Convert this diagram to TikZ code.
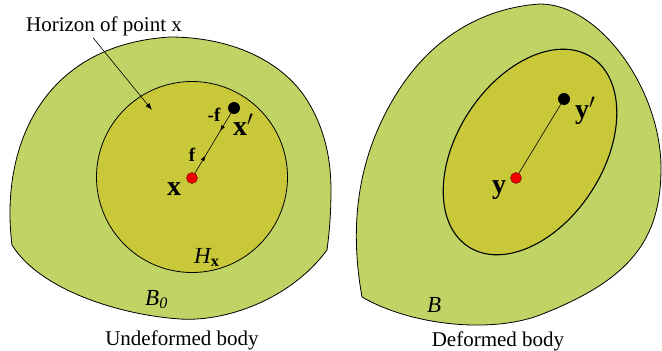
\documentclass[tikz,border=0pt]{standalone}
\usepackage{fontspec}
\setmainfont{Liberation Serif}
\usetikzlibrary{arrows.meta, positioning, decorations.markings}
\definecolor{outergreen}{RGB}{191,212,101}
\definecolor{innergreen}{RGB}{200,200,56}
\definecolor{dotred}{RGB}{240,0,0}

\begin{document}
\begin{tikzpicture}[x=1pt, y=-1pt,
  body/.style={fill=outergreen, draw=black, line width=0.8pt},
  hood/.style={fill=innergreen, draw=black, line width=0.8pt},
  reddot/.style={circle, fill=dotred, draw=black!60!red, line width=0.4pt, inner sep=0pt, minimum size=11pt},
  blackdot/.style={circle, fill=black, inner sep=0pt, minimum size=12pt},
  ptlabel/.style={font=\fontsize{28}{28}\selectfont\bfseries, inner sep=0pt},
  forcelabel/.style={font=\fontsize{19}{19}\selectfont\bfseries, inner sep=0pt},
  caption/.style={font=\fontsize{21}{21}\selectfont, inner sep=0pt},
  bodylabel/.style={font=\fontsize{23}{23}\selectfont\itshape, inner sep=0pt},
  bond/.style={line width=0.6pt},
  pointer/.style={line width=0.6pt, -{Latex[length=7pt,width=5pt]}}]
  \useasboundingbox (0,0) rectangle (662,351);

  % undeformed body
  \draw[body] (12,245) .. controls (0,150) and (40,45) .. (170,37)
    .. controls (230,37) and (280,60) .. (305,97)
    .. controls (325,127) and (331,160) .. (331,190)
    .. controls (331,215) and (329,235) .. (327,250)
    .. controls (290,300) and (225,322) .. (180,319)
    .. controls (120,315) and (40,290) .. (12,245) -- cycle;
  \draw[hood] (192,177) circle (95.5);

  % deformed body
  \draw[body] (362,297) .. controls (350,230) and (355,160) .. (397,93)
    .. controls (430,40) and (480,8) .. (540,4)
    .. controls (600,4) and (661,90) .. (661,168)
    .. controls (661,240) and (630,280) .. (540,315)
    .. controls (490,334) and (410,325) .. (362,297) -- cycle;
  \draw[hood, line width=1.1pt] (530,152) ellipse [x radius=113pt, y radius=73pt, rotate=57];

  % points
  \node[reddot] (x) at (192,178) {};
  \node[blackdot] (xp) at (234,108) {};
  \node[reddot] (y) at (516,178) {};
  \node[blackdot] (yp) at (564,99) {};

  \draw[bond, postaction={decorate}, decoration={markings,
      mark=at position 0.3 with {\arrow{Latex[length=6pt,width=4pt]}},
      mark=at position 0.7 with {\arrowreversed{Latex[length=6pt,width=4pt]}}}] (x) -- (xp);
  \draw[bond] (y) -- (yp);

  % labels
  \node[ptlabel, anchor=base west] (xlab) at (167,195) {x};
  \node[ptlabel, anchor=base west] (xplab) at (233,135) {x$'$};
  \node[forcelabel] (flab) at (192,155) {f};
  \node[forcelabel] (mflab) at (214,115) {-f};
  \node[ptlabel, anchor=base west] (ylab) at (492,193) {y};
  \node[ptlabel, anchor=base west] (yplab) at (575,118) {y$'$};

  \node[bodylabel, anchor=base west] (hx) at (194,263) {H\textsubscript{\upshape\bfseries x}};
  \node[bodylabel, anchor=base west] (b0) at (145,305) {B\textsubscript{0}};
  \node[bodylabel, anchor=base west] (b) at (427,312) {B};

  \node[caption, anchor=base] (undef) at (182,345) {Undeformed body};
  \node[caption, anchor=base] (def) at (498,346) {Deformed body};

  \node[caption, anchor=base] (horizon) at (104,31) {Horizon of point x};
  \coordinate (htip) at (152,110);
  \draw[pointer] ([xshift=-11pt, yshift=-2pt]horizon.south) -- (htip);
\end{tikzpicture}
\end{document}
